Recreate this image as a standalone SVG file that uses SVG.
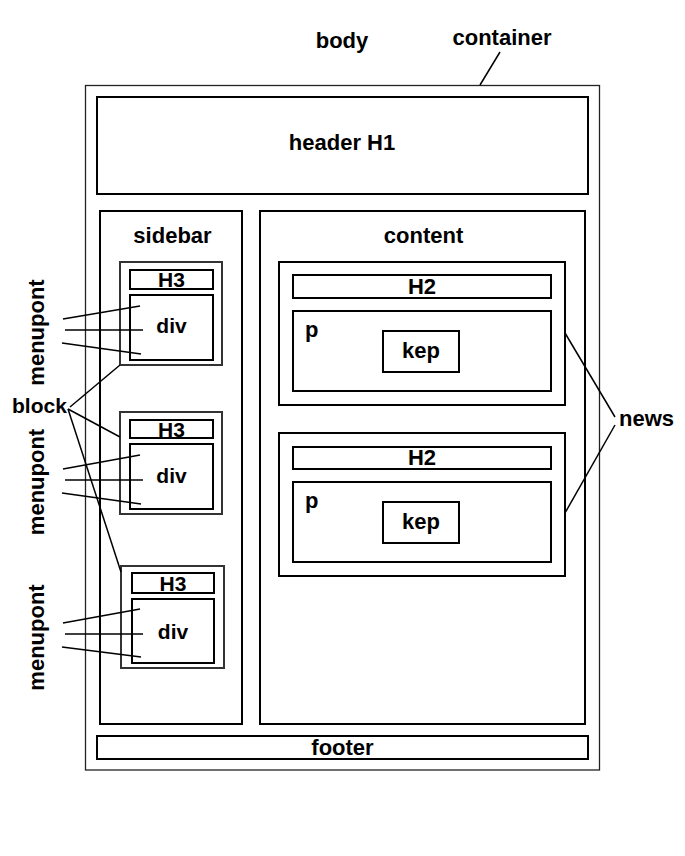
<svg xmlns="http://www.w3.org/2000/svg" width="685" height="856" viewBox="0 0 685 856">
<style>
.t{font-family:"Liberation Sans",Arial,sans-serif;font-weight:bold;font-size:22px;fill:#000}
.m{text-anchor:middle}
.s{font-size:21px}
.box{fill:none;stroke:#000;stroke-width:2}
.thin{fill:none;stroke:#222;stroke-width:1.3}
.blk{fill:none;stroke:#333;stroke-width:2}
.ln{stroke:#000;stroke-width:1.5;fill:none}
</style>
<rect width="685" height="856" fill="#fff"/>
<g id="body"><text class="t m" x="342" y="48">body</text></g>
<g id="container">
<rect class="thin" x="85.5" y="85.5" width="514" height="684.5"/>
<text class="t m" x="502" y="45">container</text>
</g>
<g id="header"><rect class="box" x="97" y="97" width="491" height="97"/><text class="t m" x="342" y="150">header H1</text></g>
<g id="sidebar"><rect class="box" x="100" y="211" width="142" height="513"/><text class="t m" x="172.5" y="243">sidebar</text></g>
<g id="content"><rect class="box" x="260" y="211" width="325" height="513"/><text class="t m" x="423.5" y="243">content</text></g>
<g id="block1">
<rect class="blk" x="120" y="262" width="102" height="103"/>
<rect class="box" x="130" y="270" width="83" height="19"/><text class="t m s" x="171.5" y="287">H3</text>
<rect class="box" x="130" y="295" width="83" height="65"/><text class="t m s" x="171.5" y="333">div</text>
</g>
<g id="block2">
<rect class="blk" x="120" y="412" width="102" height="102"/>
<rect class="box" x="130" y="420" width="83" height="18"/><text class="t m s" x="171.5" y="437">H3</text>
<rect class="box" x="130" y="444" width="83" height="65"/><text class="t m s" x="171.5" y="483">div</text>
</g>
<g id="block3">
<rect class="blk" x="121" y="566" width="103" height="102"/>
<rect class="box" x="132" y="573" width="82" height="20"/><text class="t m s" x="173" y="591">H3</text>
<rect class="box" x="132" y="599" width="82" height="64"/><text class="t m s" x="173" y="639">div</text>
</g>
<g id="news1">
<rect class="box" x="279" y="262" width="286" height="143"/>
<rect class="box" x="293" y="275" width="258" height="23"/><text class="t m" x="422" y="294">H2</text>
<rect class="box" x="293" y="311" width="258" height="80"/><text class="t" x="305" y="337">p</text>
<rect class="box" x="383" y="331" width="76" height="41"/><text class="t m" x="421" y="358">kep</text>
</g>
<g id="news2">
<rect class="box" x="279" y="433" width="286" height="143"/>
<rect class="box" x="293" y="447" width="258" height="22"/><text class="t m" x="422" y="465">H2</text>
<rect class="box" x="293" y="482" width="258" height="80"/><text class="t" x="305" y="508">p</text>
<rect class="box" x="383" y="502" width="76" height="41"/><text class="t m" x="421" y="529">kep</text>
</g>
<g id="footer"><rect class="box" x="97" y="736" width="491" height="23"/><text class="t m" x="342.5" y="755">footer</text></g>
<g id="labels">
<text class="t s" x="12" y="413">block</text>
<text class="t" x="619" y="426">news</text>
<text class="t m" transform="translate(44 332.5) rotate(-90)">menupont</text>
<text class="t m" transform="translate(44 482) rotate(-90)">menupont</text>
<text class="t m" transform="translate(44 637.5) rotate(-90)">menupont</text>
</g>
<g id="connectors">
<line class="ln" x1="480" y1="85" x2="500" y2="52"/>
<line class="ln" x1="70" y1="407" x2="120" y2="365"/>
<line class="ln" x1="68" y1="409" x2="120" y2="437"/>
<line class="ln" x1="68" y1="409" x2="121" y2="572"/>
<line class="ln" x1="565" y1="333" x2="615" y2="417"/>
<line class="ln" x1="565" y1="513" x2="615" y2="425"/>
<line class="ln" x1="63" y1="319" x2="140" y2="306"/>
<line class="ln" x1="65" y1="330" x2="143" y2="330"/>
<line class="ln" x1="62" y1="343" x2="141" y2="354"/>
<line class="ln" x1="63" y1="469" x2="140" y2="455"/>
<line class="ln" x1="65" y1="480" x2="143" y2="480"/>
<line class="ln" x1="62" y1="493" x2="141" y2="504"/>
<line class="ln" x1="63" y1="623" x2="140" y2="609"/>
<line class="ln" x1="65" y1="634" x2="143" y2="634"/>
<line class="ln" x1="62" y1="647" x2="141" y2="657"/>
</g>
</svg>
